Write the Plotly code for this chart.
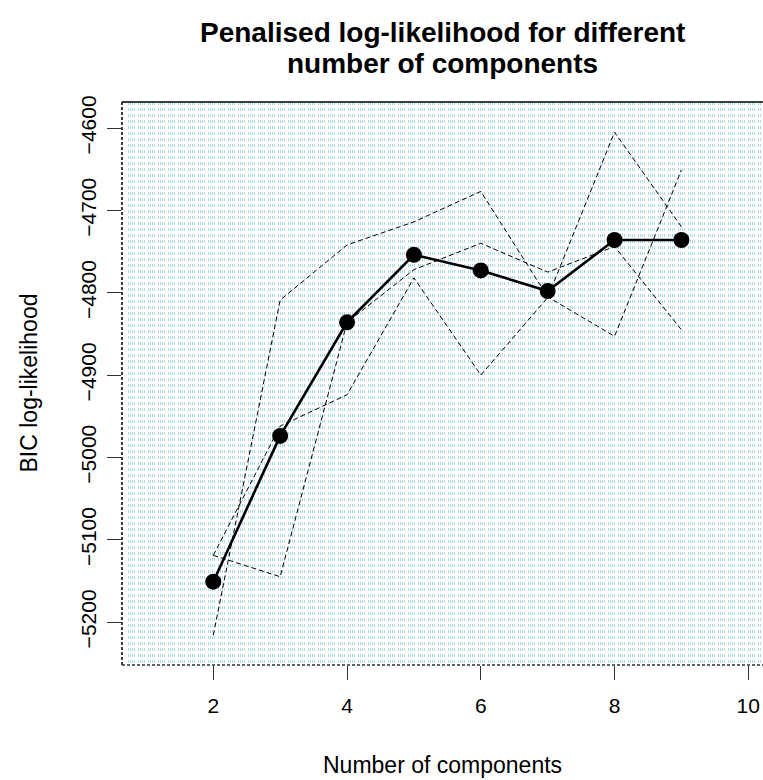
import plotly.graph_objects as go

# Number of mixture components tried
components = [2, 3, 4, 5, 6, 7, 8, 9]

# Best (penalised) BIC log-likelihood per number of components
best_bic = [-5151, -4974, -4836, -4754, -4773, -4798, -4736, -4736]

# Individual restarts
run_a = [-5216, -4809, -4742, -4714, -4677, -4805, -4853, -4651]
run_b = [-5119, -5145, -4836, -4772, -4740, -4775, -4744, -4845]
run_c = [-5119, -4962, -4924, -4782, -4900, -4806, -4605, -4720]

x_ticks = [2, 4, 6, 8, 10]
y_ticks = [-5200, -5100, -5000, -4900, -4800, -4700, -4600]

X_RANGE = [0.635, 10.22]
Y_RANGE = [-5252.2, -4568.4]

W, H = 763, 780
M_L, M_R, M_T, M_B = 122, 0, 102, 115
FONT = "Liberation Sans, Arial, sans-serif"

# Dense light-blue dotted hatching in the plotting region
px_per_unit = (W - M_L - M_R) / (X_RANGE[1] - X_RANGE[0])
hatch = []
start = 6.0
while start < W - M_L:
    for off in (0, 2, 4, 6):
        p = start + off
        if p < W - M_L:
            hatch.append(X_RANGE[0] + p / px_per_unit)
    start += 10.0

fig = go.Figure()

for run in (run_a, run_b, run_c):
    fig.add_trace(go.Scatter(
        x=components, y=run, mode="lines",
        line=dict(color="black", width=1, dash="5px,3px"),
        hoverinfo="skip", showlegend=False,
    ))

fig.add_trace(go.Scatter(
    x=components, y=best_bic, mode="lines+markers",
    line=dict(color="black", width=2.6),
    marker=dict(color="black", size=16),
    showlegend=False,
))

fig.update_layout(
    width=W, height=H,
    margin=dict(l=M_L, r=M_R, t=M_T, b=M_B),
    paper_bgcolor="white", plot_bgcolor="white",
    font=dict(family=FONT, color="black", size=21),
    showlegend=False,
)

fig.update_xaxes(
    range=X_RANGE, tickmode="array", tickvals=x_ticks,
    showgrid=False, zeroline=False, showline=False,
    ticks="outside", ticklen=14, tickwidth=1, tickcolor="#333",
    tickfont=dict(family=FONT, size=21), ticklabelstandoff=8,
    minor=dict(tickmode="array", tickvals=hatch, showgrid=True,
               gridcolor="#ADD8E6", gridwidth=1, griddash="dot"),
)
fig.update_yaxes(
    range=Y_RANGE, tickmode="array", tickvals=y_ticks,
    showgrid=False, zeroline=False, showline=False,
    ticks="outside", ticklen=14, tickwidth=1, tickcolor="#333",
    tickangle=-90, tickfont=dict(family=FONT, size=21), ticklabelstandoff=3,
)

# Plot frame: solid top edge, dashed left and bottom edges
fig.add_shape(type="line", xref="x domain", yref="y domain",
              x0=0, x1=1, y0=1, y1=1, line=dict(color="black", width=1.5))
fig.add_shape(type="line", xref="x domain", yref="y domain",
              x0=0, x1=0, y0=0, y1=1, line=dict(color="black", width=1.5, dash="3px,2px"))
fig.add_shape(type="line", xref="x domain", yref="y domain",
              x0=0, x1=1, y0=0, y1=0, line=dict(color="#333", width=1.5, dash="3px,2px"))

# Title (two lines) and axis titles
fig.add_annotation(text="<b>Penalised log-likelihood for different</b>",
                   xref="paper", yref="paper", x=0.5, y=1, yshift=M_T - 32,
                   xanchor="center", yanchor="middle", showarrow=False,
                   font=dict(family=FONT, size=28, color="black"))
fig.add_annotation(text="<b>number of components</b>",
                   xref="paper", yref="paper", x=0.5, y=1, yshift=M_T - 63,
                   xanchor="center", yanchor="middle", showarrow=False,
                   font=dict(family=FONT, size=28, color="black"))
fig.add_annotation(text="Number of components",
                   xref="paper", yref="paper", x=0.5, y=0, yshift=-(765 - (H - M_B)),
                   xanchor="center", yanchor="middle", showarrow=False,
                   font=dict(family=FONT, size=23, color="black"))
fig.add_annotation(text="BIC log-likelihood", textangle=-90,
                   xref="paper", yref="paper", x=0, y=0.5, xshift=-(M_L - 28),
                   xanchor="center", yanchor="middle", showarrow=False,
                   font=dict(family=FONT, size=23, color="black"))

fig.write_html("out.html")
